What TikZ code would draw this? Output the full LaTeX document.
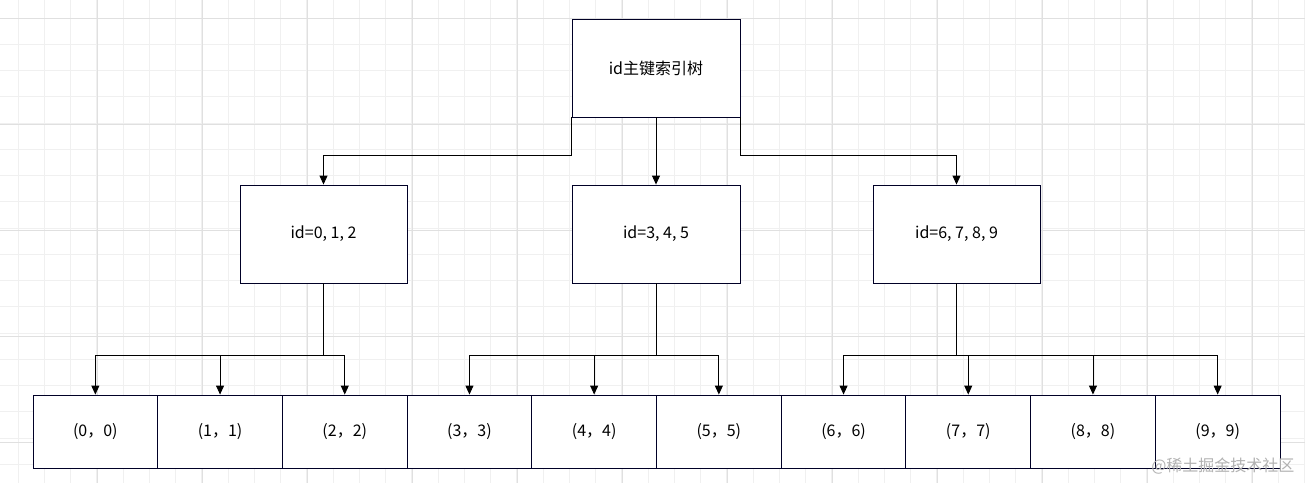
\documentclass[tikz,border=0pt]{standalone}
\usepackage{fontspec}
\setmainfont{Noto Sans CJK SC}
\usetikzlibrary{arrows.meta}
\begin{document}
\begin{tikzpicture}[x=1pt,y=-1pt,
  box/.style={draw=black!85!blue,line width=0.9pt,fill=white,inner sep=0pt,font=\fontsize{16}{18}\selectfont},
  conn/.style={line width=0.9pt,-{Triangle[length=9pt,width=8pt]}},
  plain/.style={line width=0.9pt}]
\fill[white] (0,0) rectangle (1305,483);
\useasboundingbox (0,0) rectangle (1305,483);
\foreach \k in {0,...,50} {
  \draw[black!6,line width=0.6pt] ({18+26.25*(\k-1)},0)--({18+26.25*(\k-1)},483);
  \draw[black!6,line width=0.6pt] (0,{18+26.25*(\k-1)})--(1305,{18+26.25*(\k-1)});
}
\foreach \x in {97,202,...,1305} \draw[black!12,line width=0.7pt] (\x,0)--(\x,483);
\foreach \y in {18,124,...,483} \draw[black!12,line width=0.7pt] (0,\y)--(1305,\y);
\node[box,minimum width=168,minimum height=98] (root) at (656,68) {id主键索引树};
\node[box,minimum width=167,minimum height=98] (m1) at (323.5,234) {id=0, 1, 2};
\node[box,minimum width=168,minimum height=98] (m2) at (656,234) {id=3, 4, 5};
\node[box,minimum width=167,minimum height=98] (m3) at (956.5,234) {id=6, 7, 8, 9};
\foreach \i in {0,...,9}{
  \node[box,minimum width=124.7,minimum height=73] (l\i) at ({33+124.7*(\i+0.5)},431.5) {(\i，\i)};
}
\draw[conn] (root.south west) -- ++(0,38) -| (m1.north);
\draw[conn] (root.south) -- (m2.north);
\draw[conn] (root.south east) -- ++(0,38) -| (m3.north);
\draw[plain] (m1.south) -- ++(0,72) coordinate (j1);
\draw[plain] (m2.south) -- ++(0,72) coordinate (j2);
\draw[plain] (m3.south) -- ++(0,72) coordinate (j3);
\foreach \i in {0,1,2} \draw[conn] (j1) -| (l\i.north);
\foreach \i in {3,4,5} \draw[conn] (j2) -| (l\i.north);
\foreach \i in {6,7,8,9} \draw[conn] (j3) -| (l\i.north);
\node[text=black!30,font=\fontsize{16}{18}\selectfont,anchor=east] (wm) at (1298,466) {@稀土掘金技术社区};
\end{tikzpicture}
\end{document}
